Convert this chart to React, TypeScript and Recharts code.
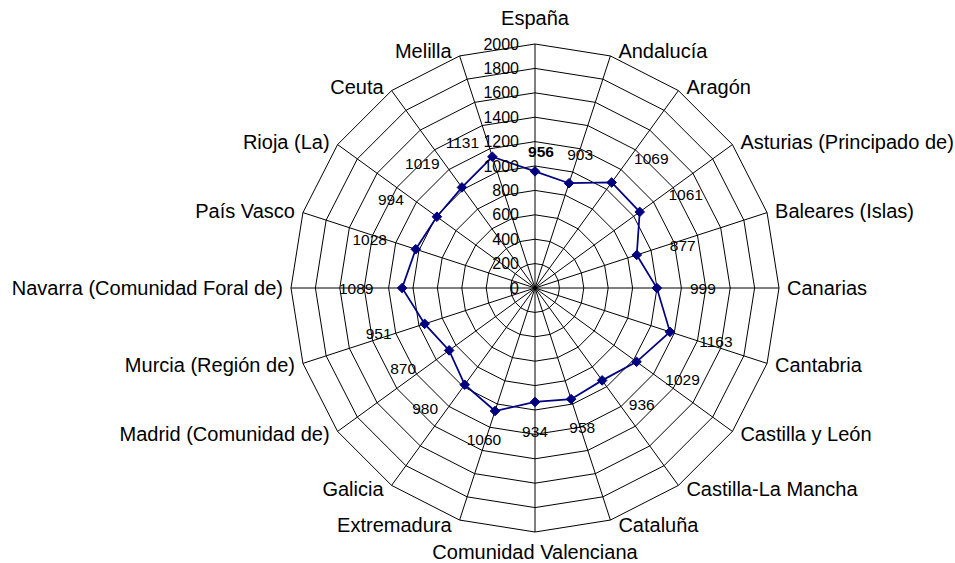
import React from "react";
import {
  RadarChart,
  Radar,
  PolarGrid,
  PolarAngleAxis,
  PolarRadiusAxis,
  LabelList,
} from "recharts";

const regions = [
  "España",
  "Andalucía",
  "Aragón",
  "Asturias (Principado de)",
  "Baleares (Islas)",
  "Canarias",
  "Cantabria",
  "Castilla y León",
  "Castilla-La Mancha",
  "Cataluña",
  "Comunidad Valenciana",
  "Extremadura",
  "Galicia",
  "Madrid (Comunidad de)",
  "Murcia (Región de)",
  "Navarra (Comunidad Foral de)",
  "País Vasco",
  "Rioja (La)",
  "Ceuta",
  "Melilla",
];

const values = [
  956, 903, 1069, 1061, 877, 999, 1163, 1029, 936, 958, 934, 1060, 980, 870,
  951, 1089, 1028, 994, 1019, 1131,
];

const radiusTicks = [0, 200, 400, 600, 800, 1000, 1200, 1400, 1600, 1800, 2000];

const data = regions.map((region, i) => ({ region, value: values[i] }));

const WIDTH = 955;
const HEIGHT = 563;
const CX = 535;
const CY = 288;
const R = 244;
const FONT = "'Liberation Sans', Arial, sans-serif";
const LINE = "#000080";

// region names sit just outside the outer polygon
const RegionTick = (props: any) => {
  const { payload } = props;
  const rad = (payload.coordinate * Math.PI) / 180;
  const s = Math.cos(rad);
  const c = Math.sin(rad);
  const vx = CX + R * s;
  const vy = CY - R * c;
  let x = vx;
  let y = vy;
  let anchor: "start" | "middle" | "end" = "middle";
  if (Math.abs(s) < 0.05) {
    y = c > 0 ? vy - 26 : vy + 20;
  } else {
    anchor = s > 0 ? "start" : "end";
    x = vx + (s > 0 ? 8 : -8);
    y = vy - 5 * c;
  }
  return (
    <text
      x={x}
      y={y}
      textAnchor={anchor}
      dominantBaseline="central"
      fontFamily={FONT}
      fontSize={20}
      fill="#000"
    >
      {payload.value}
    </text>
  );
};

const RadiusTick = (props: any) => {
  const { x, y, payload } = props;
  return (
    <text
      x={x - 16}
      y={y}
      textAnchor="end"
      dominantBaseline="central"
      fontFamily={FONT}
      fontSize={16}
      fill="#000"
    >
      {payload.value}
    </text>
  );
};

const Diamond = (props: any) => {
  const { cx, cy } = props;
  if (cx == null || cy == null) return null;
  const h = 4.8;
  return (
    <path
      d={`M${cx},${cy - h}L${cx + h},${cy}L${cx},${cy + h}L${cx - h},${cy}Z`}
      fill={LINE}
      stroke={LINE}
      strokeWidth={1}
    />
  );
};

// value labels pushed outward from each point, sideways on the flanks
const ValueLabel = (props: any) => {
  const { index, value } = props;
  const px = props.x ?? props.viewBox?.x;
  const py = props.y ?? props.viewBox?.y;
  if (px == null || py == null) return null;
  const n = regions.length;
  const a = (index * 2 * Math.PI) / n;
  const s = Math.sin(a);
  const c = Math.cos(a);
  const k = Math.min(1, Math.max(0, (Math.abs(s) - 0.2) / 0.45));
  let dx = 46 * Math.sign(s) * k;
  let dy = -30 * c;
  if (index === 0) {
    // first label, bold, tucked closer to its point
    dx = 6;
    dy = -20;
  } else if (index === n - 1) {
    // last label kept left of the radius tick labels
    dx = -30;
    dy = -14;
  }
  return (
    <text
      x={px + dx}
      y={py + dy}
      textAnchor="middle"
      dominantBaseline="central"
      fontFamily={FONT}
      fontSize={15.5}
      fontWeight={index === 0 ? "bold" : "normal"}
      fill="#000"
    >
      {value}
    </text>
  );
};

export default function App() {
  return (
    <div
      style={{
        position: "absolute",
        left: 0,
        top: 0,
        width: WIDTH,
        height: HEIGHT,
        background: "#fff",
      }}
    >
      <RadarChart
        width={WIDTH}
        height={HEIGHT}
        data={data}
        cx={CX}
        cy={CY}
        outerRadius={R}
        startAngle={90}
        endAngle={-270}
        margin={{ top: 0, right: 0, bottom: 0, left: 0 }}
      >
        <PolarGrid gridType="polygon" stroke="#000" strokeWidth={1} />
        <PolarAngleAxis
          dataKey="region"
          tick={RegionTick}
          tickLine={false}
          axisLine={false}
        />
        <PolarRadiusAxis
          angle={90}
          domain={[0, 2000]}
          ticks={radiusTicks}
          tickCount={11}
          axisLine={false}
          tickLine={false}
          tick={RadiusTick}
        />
        <Radar
          dataKey="value"
          stroke={LINE}
          strokeWidth={1.75}
          fill="none"
          fillOpacity={0}
          dot={Diamond}
          isAnimationActive={false}
        >
          <LabelList dataKey="value" content={ValueLabel} />
        </Radar>
      </RadarChart>
    </div>
  );
}
